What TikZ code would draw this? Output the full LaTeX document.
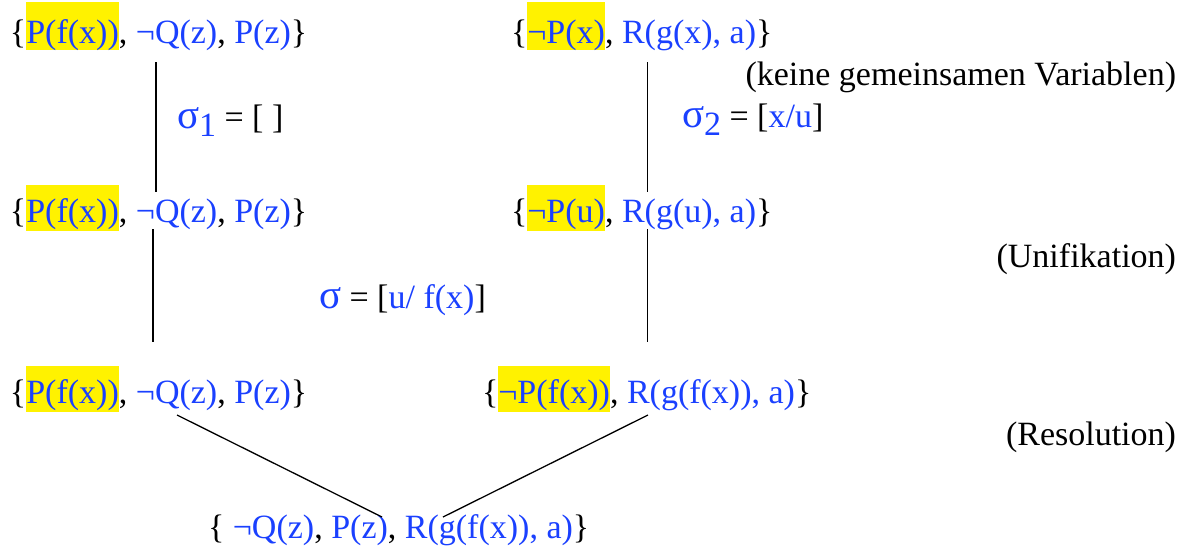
\documentclass[tikz,border=0pt]{standalone}
\usepackage{fontspec}
\setmainfont{Liberation Serif}
\definecolor{tblue}{RGB}{26,64,255}
\newcommand\hlt[2][0.25em]{{\setlength{\fboxsep}{0pt}\colorbox{yellow}{\rule[-#1]{0pt}{1.35em}#2}}}
\newcommand\bl[1]{\textcolor{tblue}{#1}}
\newcommand\sig{{\fontsize{20.5}{24}\selectfont\color{tblue}σ}}
\newcommand\subd[1]{\raisebox{-0.25em}{\color{tblue}#1}}
\begin{document}
\begin{tikzpicture}[x=0.5pt,y=-0.5pt,
  txt/.style={inner sep=0pt, outer sep=0pt, anchor=base west, font=\fontsize{17}{20}\selectfont},
  lbl/.style={txt, anchor=base east},
  conn/.style={line width=0.65pt, black}]
\useasboundingbox[fill=white] (0,0) rectangle (1191,548);
% clause rows
\node[txt] (l1) at (10,43) {\{\hlt[0.13em]{\bl{P(f(x))}}, \bl{¬Q(z)}, \bl{P(z)}\}};
\node[txt] (r1) at (511,43) {\{\hlt[0.13em]{\bl{¬P(x)}}, \bl{R(g(x), a)}\}};
\node[txt] (l2) at (10,222) {\{\hlt{\bl{P(f(x))}}, \bl{¬Q(z)}, \bl{P(z)}\}};
\node[txt] (r2) at (511,222) {\{\hlt{\bl{¬P(u)}}, \bl{R(g(u), a)}\}};
\node[txt] (l3) at (10,403) {\{\hlt{\bl{P(f(x))}}, \bl{¬Q(z)}, \bl{P(z)}\}};
\node[txt] (r3) at (482,403) {\{\hlt{\bl{¬P(f(x))}}, \bl{R(g(f(x)), a)}\}};
\node[txt] (res) at (208,538) {\{ \bl{¬Q(z)}, \bl{P(z)}, \bl{R(g(f(x)), a)}\}};
% substitutions
\node[txt] (s1) at (177,128) {\sig\subd{1} = [ ]};
\node[txt] (s2) at (682,127) {\sig\subd{2} = [\bl{x/u}]};
\node[txt] (s) at (319,308) {\sig{} = [\bl{u/ f(x)}]};
% side labels
\node[lbl] (k) at (1176,85) {(keine gemeinsamen Variablen)};
\node[lbl] (u) at (1176,267) {(Unifikation)};
\node[lbl] (rl) at (1176,445) {(Resolution)};
% connectors
\coordinate (a1) at (156,62);   \coordinate (a2) at (156,192);
\coordinate (b1) at (153,229);  \coordinate (b2) at (153,342);
\coordinate (c1) at (647.5,62); \coordinate (c2) at (647.5,192);
\coordinate (d1) at (647.5,229);\coordinate (d2) at (647.5,342);
\coordinate (e1) at (177,415);  \coordinate (e2) at (382,517);
\coordinate (f1) at (648,415);  \coordinate (f2) at (443,517);
\draw[conn] (a1) -- (a2);
\draw[conn] (b1) -- (b2);
\draw[conn] (c1) -- (c2);
\draw[conn] (d1) -- (d2);
\draw[conn] (e1) -- (e2);
\draw[conn] (f1) -- (f2);
\end{tikzpicture}
\end{document}
